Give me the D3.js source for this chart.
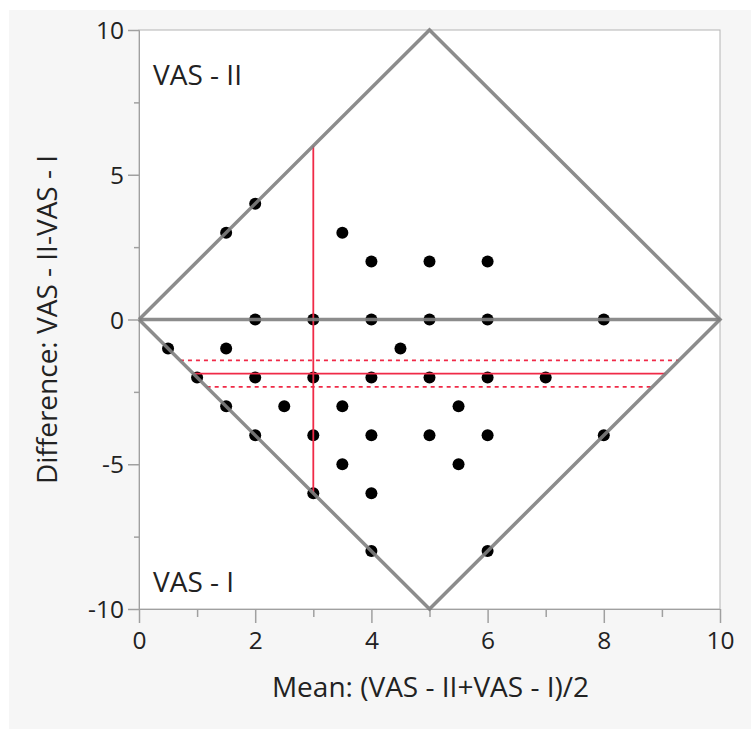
<!DOCTYPE html>
<html lang="en">
<head>
<meta charset="UTF-8" />
<title>Matched Pairs</title>
<script src="https://d3js.org/d3.v7.min.js"></script>
<style>
  body { margin: 0; background: #fff; font-family: "Open Sans", Arial, sans-serif; }
  #chart { position: absolute; left: 0; top: 0; }
</style>
</head>
<body>
<div id="chart"></div>
<script>
// mean of the two ratings, and their difference (VAS - II minus VAS - I)
const meanVals = [0.5, 1, 1.5, 2, 1.5, 1.5, 2, 2, 2, 2.5, 3, 3, 3, 3, 3.5, 3.5, 3.5,
  4, 4, 4, 4, 4, 4, 4.5, 5, 5, 5, 5, 5.5, 5.5, 6, 6, 6, 6, 6, 7, 8, 8];
const diffVals = [-1, -2, 3, 4, -1, -3, 0, -2, -4, -3, 0, -2, -4, -6, 3, -3, -5,
  2, 0, -2, -4, -6, -8, -1, 2, 0, -2, -4, -3, -5, 2, 0, -2, -4, -8, -2, 0, -4];

const meanDiff = -1.87;   // mean difference
const ciLow = -2.33;      // lower confidence limit
const ciHigh = -1.41;     // upper confidence limit
const meanOfMeans = 3.0;

const xTicks = [0, 2, 4, 6, 8, 10];
const yTicks = [-10, -5, 0, 5, 10];

const W = 751, H = 729;
const plot = { left: 139, top: 30, right: 720, bottom: 609 };
const font = "'Open Sans', Arial, sans-serif";

const svg = d3.select("#chart").append("svg")
  .attr("width", W).attr("height", H)
  .style("font-family", font);

svg.append("rect").attr("x", 9).attr("y", 10)
  .attr("width", W - 9).attr("height", H - 10).attr("fill", "#f6f6f6");

const x = d3.scaleLinear().domain([0, 10]).range([plot.left, plot.right]);
const y = d3.scaleLinear().domain([-10, 10]).range([plot.bottom, plot.top]);

svg.append("rect")
  .attr("x", plot.left).attr("y", plot.top)
  .attr("width", plot.right - plot.left).attr("height", plot.bottom - plot.top)
  .attr("fill", "#fff").attr("stroke", "#b4b4b4").attr("stroke-width", 1);

// axes
const xAxis = svg.append("g").attr("transform", `translate(0,${plot.bottom})`)
  .call(d3.axisBottom(x).tickValues(d3.range(0, 11, 1)).tickSize(14)
    .tickFormat(d => xTicks.includes(d) ? d : ""));
xAxis.selectAll(".tick line").attr("y2", d => d % 2 === 0 ? 14 : 8);

const yAxis = svg.append("g").attr("transform", `translate(${plot.left},0)`)
  .call(d3.axisLeft(y).tickValues(d3.range(-10, 11, 2.5)).tickSize(11)
    .tickFormat(d => yTicks.includes(d) ? d : ""));
yAxis.selectAll(".tick line").attr("x2", d => d % 5 === 0 ? -11 : -5);

[xAxis, yAxis].forEach(a => {
  a.select(".domain").attr("stroke", "#a0a0a0");
  a.selectAll(".tick line").attr("stroke", "#a0a0a0").attr("stroke-width", 1.5);
  a.selectAll("text").attr("fill", "#222").style("font-size", "24.5px")
    .style("font-family", font);
});
xAxis.selectAll("text").attr("y", 40).attr("dy", 0);
yAxis.selectAll("text").attr("x", -15).attr("dy", "0.35em");

// axis titles
svg.append("text").attr("x", (plot.left + plot.right) / 2 + 1).attr("y", 697)
  .attr("text-anchor", "middle").attr("fill", "#222").style("font-size", "28px")
  .text("Mean: (VAS - II+VAS - I)/2");
svg.append("text")
  .attr("transform", `translate(57,${(plot.top + plot.bottom) / 2}) rotate(-90)`)
  .attr("text-anchor", "middle").attr("fill", "#222").style("font-size", "28px")
  .text("Difference: VAS - II-VAS - I");

// corner labels
svg.append("text").attr("x", 153).attr("y", 85).attr("fill", "#222")
  .style("font-size", "28px").text("VAS - II");
svg.append("text").attr("x", 153).attr("y", 592).attr("fill", "#222")
  .style("font-size", "28px").text("VAS - I");

// points
svg.append("g").selectAll("circle")
  .data(meanVals.map((m, i) => ({ m, d: diffVals[i] })))
  .join("circle")
  .attr("cx", d => x(d.m)).attr("cy", d => y(d.d)).attr("r", 6)
  .attr("fill", "#000");

// red lines clipped to the diamond
const halfSpan = d => Math.abs(d) / 2;
const red = "#f02a47";
const hLine = (val, dash) => svg.append("line")
  .attr("x1", x(halfSpan(val))).attr("x2", x(10 - halfSpan(val)))
  .attr("y1", y(val)).attr("y2", y(val))
  .attr("stroke", red).attr("stroke-width", 1.8)
  .attr("stroke-dasharray", dash ? "4,4" : null);
hLine(meanDiff, false);
hLine(ciLow, true);
hLine(ciHigh, true);
const lim = 2 * Math.min(meanOfMeans, 10 - meanOfMeans);
svg.append("line")
  .attr("x1", x(meanOfMeans)).attr("x2", x(meanOfMeans))
  .attr("y1", y(-lim)).attr("y2", y(lim))
  .attr("stroke", red).attr("stroke-width", 1.8);

// diamond and zero line
const diamond = [[0, 0], [5, 10], [10, 0], [5, -10], [0, 0]];
svg.append("path")
  .attr("d", d3.line().x(d => x(d[0])).y(d => y(d[1]))(diamond))
  .attr("fill", "none").attr("stroke", "#808080").attr("stroke-width", 3.5)
  .attr("stroke-opacity", 0.9);
svg.append("line").attr("x1", x(0)).attr("x2", x(10)).attr("y1", y(0)).attr("y2", y(0))
  .attr("stroke", "#808080").attr("stroke-width", 3.5).attr("stroke-opacity", 0.9);
</script>
</body>
</html>
